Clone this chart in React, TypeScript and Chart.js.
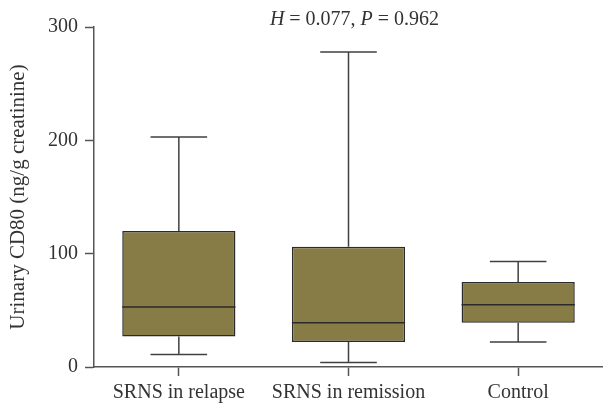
import React, { useEffect, useRef } from "react";
import { Chart, registerables } from "chart.js";

Chart.register(...registerables);

const categories = ["SRNS in relapse", "SRNS in remission", "Control"];
const minValues = [11, 4, 22];
const q1Values = [27, 22, 39];
const medianValues = [53, 39, 55];
const q3Values = [120, 106, 75];
const maxValues = [203, 278, 93];
const yTicks = [0, 100, 200, 300];
const annotation = ["H", " = 0.077, ", "P", " = 0.962"];

const FONT = "'Liberation Serif', 'Times New Roman', serif";
const TEXT = "#333333";
const AXIS = "#555555";

const boxPlugin = {
  id: "boxWhiskers",
  afterDatasetsDraw(chart: any) {
    const ctx = chart.ctx;
    const y = chart.scales.y;
    const meta = chart.getDatasetMeta(0);
    ctx.save();
    meta.data.forEach((bar: any, i: number) => {
      const cx = bar.x;
      const half = bar.width / 2;
      const capHalf = bar.width / 4;
      const yMax = y.getPixelForValue(maxValues[i]);
      const yQ3 = y.getPixelForValue(q3Values[i]);
      const yQ1 = y.getPixelForValue(q1Values[i]);
      const yMin = y.getPixelForValue(minValues[i]);
      const yMed = y.getPixelForValue(medianValues[i]);
      ctx.strokeStyle = "#404040";
      ctx.lineWidth = 1.5;
      ctx.beginPath();
      ctx.moveTo(cx, yMax);
      ctx.lineTo(cx, yQ3);
      ctx.moveTo(cx, yQ1);
      ctx.lineTo(cx, yMin);
      ctx.moveTo(cx - capHalf, yMax);
      ctx.lineTo(cx + capHalf, yMax);
      ctx.moveTo(cx - capHalf, yMin);
      ctx.lineTo(cx + capHalf, yMin);
      ctx.stroke();
      ctx.strokeStyle = "#2a2a2a";
      ctx.beginPath();
      ctx.moveTo(cx - half, yMed);
      ctx.lineTo(cx + half, yMed);
      ctx.stroke();
    });
    // annotation text
    ctx.fillStyle = TEXT;
    ctx.textBaseline = "middle";
    const fonts = [`italic 20px ${FONT}`, `20px ${FONT}`, `italic 20px ${FONT}`, `20px ${FONT}`];
    let total = 0;
    const widths = annotation.map((t, k) => {
      ctx.font = fonts[k];
      const w = ctx.measureText(t).width;
      total += w;
      return w;
    });
    let x = (chart.chartArea.left + chart.chartArea.right) / 2 + 6 - total / 2;
    annotation.forEach((t, k) => {
      ctx.font = fonts[k];
      ctx.textAlign = "left";
      ctx.fillText(t, x, 20);
      x += widths[k];
    });
    ctx.restore();
  },
};

export default function App() {
  const ref = useRef<HTMLCanvasElement>(null);
  useEffect(() => {
    document.body.style.margin = "0";
    const chart = new Chart(ref.current as HTMLCanvasElement, {
      type: "bar",
      data: {
        labels: categories,
        datasets: [
          {
            data: categories.map((_, i) => [q1Values[i], q3Values[i]]) as any,
            backgroundColor: "#877c45",
            borderColor: "#2a2a2a",
            borderWidth: 1.5,
            borderSkipped: false,
            categoryPercentage: 1,
            barPercentage: 0.667,
          },
        ],
      },
      options: {
        animation: false,
        responsive: false,
        maintainAspectRatio: false,
        layout: { padding: { top: 27, right: 0, left: 0, bottom: 0 } },
        plugins: { legend: { display: false }, tooltip: { enabled: false }, title: { display: false } },
        scales: {
          x: {
            offset: true,
            grid: {
              offset: false,
              drawOnChartArea: false,
              drawTicks: true,
              tickLength: 9,
              tickWidth: 1.5,
              tickColor: AXIS,
            },
            border: { display: true, color: AXIS, width: 1.5 },
            ticks: { color: TEXT, font: { family: FONT, size: 20 }, padding: 5, maxRotation: 0, autoSkip: false },
            afterFit: (s: any) => {
              s.height = 43;
            },
          },
          y: {
            min: 0,
            max: 300,
            afterBuildTicks: (s: any) => {
              s.ticks = yTicks.map((v) => ({ value: v }));
            },
            grid: {
              drawOnChartArea: false,
              drawTicks: true,
              tickLength: 9,
              tickWidth: 1.5,
              tickColor: AXIS,
            },
            border: { display: true, color: AXIS, width: 1.5 },
            ticks: { color: TEXT, font: { family: FONT, size: 20 }, padding: 7 },
            title: {
              display: true,
              text: "Urinary CD80 (ng/g creatinine)",
              color: TEXT,
              font: { family: FONT, size: 21 },
              padding: { top: 6, bottom: 0 },
            },
            afterFit: (s: any) => {
              s.width = 94;
            },
          },
        },
      },
      plugins: [boxPlugin],
    });
    return () => chart.destroy();
  }, []);
  return (
    <div style={{ width: 603, height: 410 }}>
      <canvas ref={ref} width={603} height={410} style={{ display: "block" }} />
    </div>
  );
}
